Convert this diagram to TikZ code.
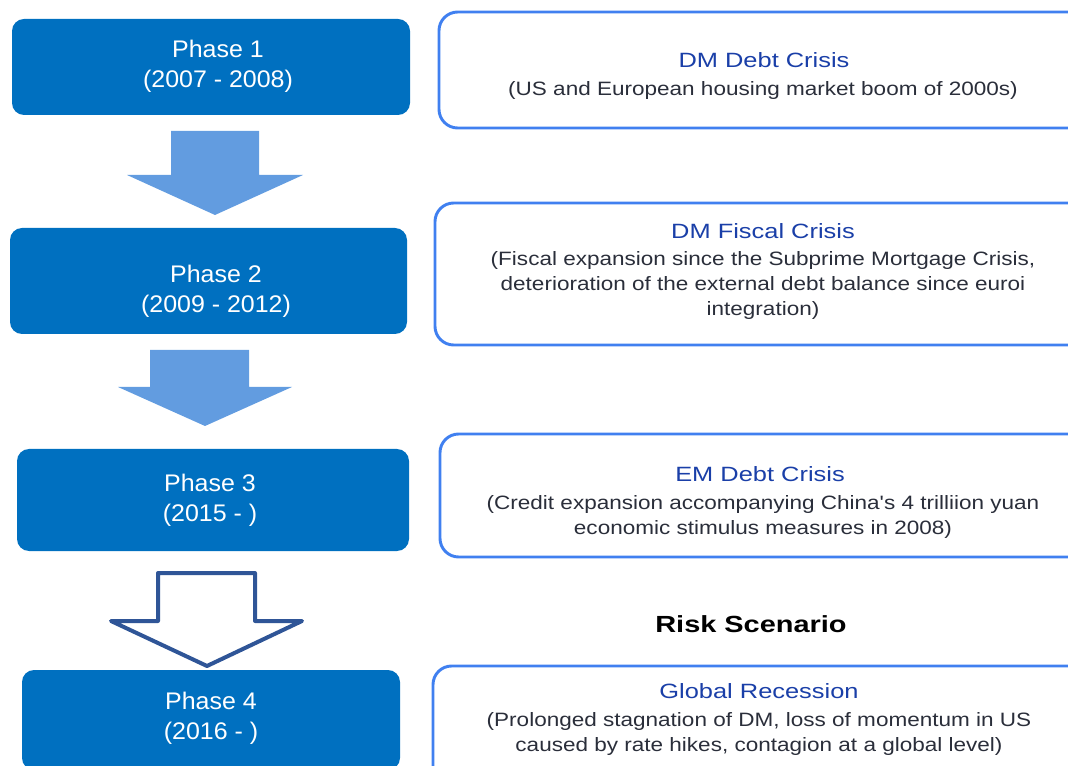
\documentclass[tikz,border=0pt]{standalone}
\usepackage{fontspec}
\setmainfont{Liberation Sans}
\newfontfamily\titlefont[FakeStretch=1.23]{Liberation Sans}
\newfontfamily\descfont[FakeStretch=1.165]{Liberation Sans}
\newfontfamily\phasefont[FakeStretch=1.04]{Liberation Sans}
\newfontfamily\riskfont[FakeStretch=1.24]{Liberation Sans}
\definecolor{phaseblue}{HTML}{0070C0}
\definecolor{arrowblue}{HTML}{629CE0}
\definecolor{outlineblue}{HTML}{2F5597}
\definecolor{frameblue}{HTML}{4080F0}
\definecolor{titleblue}{HTML}{1A3FA8}
\definecolor{desctext}{HTML}{2A2E3A}
\begin{document}
\begin{tikzpicture}[x=0.75pt,y=-0.75pt,
  phasebox/.style={fill=phaseblue,draw=none,rounded corners=9pt,inner sep=0pt},
  framebox/.style={draw=frameblue,line width=2.2pt,fill=white,rounded corners=14pt,inner sep=0pt},
  phasetext/.style={text=white,font=\phasefont\fontsize{18}{22.5}\selectfont,align=center},
  titletext/.style={text=titleblue,font=\titlefont\fontsize{15.5}{19}\selectfont},
  desctext/.style={text=desctext,font=\descfont\fontsize{14.5}{18.75}\selectfont,align=center},
  blockarrow/.style={fill=arrowblue,draw=none},
  hollowarrow/.style={draw=outlineblue,line width=3pt,fill=white,line join=round}]
\useasboundingbox (0,0) rectangle (1068,766);
\clip (0,0) rectangle (1068,766);
% left phase boxes
\node[phasebox,minimum width=398*0.75pt,minimum height=96*0.75pt] (p1) at (211,67) {};
\node[phasebox,minimum width=397*0.75pt,minimum height=106*0.75pt] (p2) at (208.5,281) {};
\node[phasebox,minimum width=392*0.75pt,minimum height=102*0.75pt] (p3) at (213,500) {};
\node[phasebox,minimum width=378*0.75pt,minimum height=100*0.75pt] (p4) at (211,720) {};
\node[phasetext] (p1t) at (218,66) {Phase 1\\(2007 - 2008)};
\node[phasetext] (p2t) at (216,291.5) {Phase 2\\(2009 - 2012)};
\node[phasetext] (p3t) at (210,500.5) {Phase 3\\(2015 - )};
\node[phasetext] (p4t) at (211,718.5) {Phase 4\\(2016 - )};
% arrows
\fill[arrowblue] (171,131) -- (259,131) -- (259,175) -- (303,175) -- (215,215) -- (127,175) -- (171,175) -- cycle;
\fill[arrowblue] (150,350) -- (249,350) -- (249,387) -- (292,387) -- (205,426) -- (118,387) -- (150,387) -- cycle;
\draw[hollowarrow] (158,573) -- (255,573) -- (255,621) -- (302,621) -- (207,666) -- (111,621) -- (158,621) -- cycle;
% right boxes
\draw[framebox] (439,12) rectangle (1100,128);
\draw[framebox] (435,203) rectangle (1100,345);
\draw[framebox] (440,434) rectangle (1100,557);
\draw[framebox] (433,666) rectangle (1100,800);
\node[titletext] (t1) at (764,60) {DM Debt Crisis};
\node[desctext] (d1) at (763,90.5) {(US and European housing market boom of 2000s)};
\node[titletext] (t2) at (763,231) {DM Fiscal Crisis};
\node[desctext] (d2) at (763,286) {(Fiscal expansion since the Subprime Mortgage Crisis,\\deterioration of the external debt balance since euroi\\integration)};
\node[titletext] (t3) at (760,474) {EM Debt Crisis};
\node[desctext] (d3) at (763,517) {(Credit expansion accompanying China's 4 trilliion yuan\\economic stimulus measures in 2008)};
\node[font=\riskfont\fontsize{17.5}{21}\selectfont\bfseries] (risk) at (751,624) {Risk Scenario};
\node[titletext] (t4) at (759,691) {Global Recession};
\node[desctext] (d4) at (759,734) {(Prolonged stagnation of DM, loss of momentum in US\\caused by rate hikes, contagion at a global level)};
\end{tikzpicture}
\end{document}
